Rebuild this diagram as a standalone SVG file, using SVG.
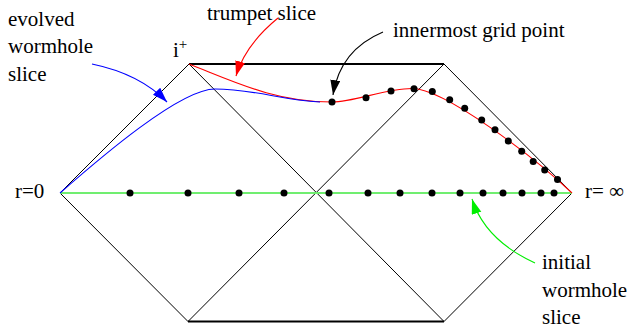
<svg xmlns="http://www.w3.org/2000/svg" width="629" height="330" viewBox="0 0 629 330">
<style>
text{font-family:"Liberation Serif","Times New Roman",serif;font-size:21px;fill:#000}
.edge{stroke:#000;stroke-width:1;fill:none}
.thick{stroke:#000;stroke-width:2.2;fill:none}
.dot{fill:#000}
.arr{fill:none;stroke-width:1.1}
</style>
<defs>
<marker id="mb" markerUnits="userSpaceOnUse" markerWidth="16" markerHeight="12" refX="15" refY="5" orient="auto"><path d="M0,0 L15,5 L0,10 z" fill="#0000ff"/></marker>
<marker id="mr" markerUnits="userSpaceOnUse" markerWidth="16" markerHeight="12" refX="15" refY="5" orient="auto"><path d="M0,0 L15,5 L0,10 z" fill="#ff0000"/></marker>
<marker id="mk" markerUnits="userSpaceOnUse" markerWidth="16" markerHeight="12" refX="15" refY="5" orient="auto"><path d="M0,0 L15,5 L0,10 z" fill="#000"/></marker>
<marker id="mg" markerUnits="userSpaceOnUse" markerWidth="16" markerHeight="12" refX="15" refY="5" orient="auto"><path d="M0,0 L15,5 L0,10 z" fill="#00ee00"/></marker>
</defs>
<rect width="629" height="330" fill="#fff"/>
<g id="diagram">
<path class="edge" d="M189,64 L60,193 L188,321.5"/>
<path class="edge" d="M444,64 L572,193 L444,321.5"/>
<path class="edge" d="M189,64 L444,321.5 M444,64 L188,321.5"/>
<path class="thick" d="M189,64 L444,64"/>
<path class="thick" d="M188,321.5 L444,321.5"/>
</g>
<g id="initial-slice">
<path d="M60,193 L572,193" stroke="#70ee70" stroke-width="2.2" fill="none"/>
<g class="dot">
<circle cx="130" cy="193" r="3.5"/><circle cx="188" cy="193" r="3.5"/><circle cx="239" cy="193" r="3.5"/><circle cx="284" cy="193" r="3.5"/>
<circle cx="329" cy="193" r="3.5"/><circle cx="368" cy="193" r="3.5"/><circle cx="400" cy="193" r="3.5"/><circle cx="432" cy="193" r="3.5"/>
<circle cx="460" cy="193" r="3.5"/><circle cx="483" cy="193" r="3.5"/><circle cx="503" cy="193" r="3.5"/><circle cx="522" cy="193" r="3.5"/>
<circle cx="541" cy="193" r="3.5"/><circle cx="554" cy="193" r="3.5"/>
</g>
</g>
<g id="trumpet-slice">
<path d="M189,64 C235,82 275,102 332,102 C355,102 385,88.5 412,88.5 C445,88.5 535,158 572,193" stroke="#ff0000" stroke-width="1.1" fill="none"/>
</g>
<g id="evolved-slice">
<path d="M60,193 C100,158 180,89 215,89 C255,89 280,100 320,102" stroke="#0000ff" stroke-width="1.1" fill="none"/>
</g>
<g id="grid-points" class="dot">
<circle cx="332" cy="102" r="3.5"/><circle cx="366" cy="97.7" r="3.5"/><circle cx="391" cy="91" r="3.5"/><circle cx="414" cy="88.7" r="3.5"/>
<circle cx="432.3" cy="91.5" r="3.5"/><circle cx="449.7" cy="99.7" r="3.5"/><circle cx="464.7" cy="108.3" r="3.5"/><circle cx="481.7" cy="120" r="3.5"/>
<circle cx="495" cy="129.7" r="3.5"/><circle cx="508.3" cy="141" r="3.5"/><circle cx="521.7" cy="151.3" r="3.5"/><circle cx="533.2" cy="161.5" r="3.5"/>
<circle cx="544.7" cy="170" r="3.5"/><circle cx="557.5" cy="179.5" r="3.5"/>
</g>
<g id="connectors">
<path class="arr" d="M92,64 Q140,74 167,102" stroke="#0000ff" marker-end="url(#mb)"/>
<path class="arr" d="M278,18 Q245,45 236,76" stroke="#ff0000" marker-end="url(#mr)"/>
<path class="arr" d="M383,32 Q340,50 333,95" stroke="#000" marker-end="url(#mk)"/>
<path class="arr" d="M535,263 Q485,240 472,199" stroke="#00ee00" marker-end="url(#mg)"/>
</g>
<g id="labels">
<text x="8" y="26">evolved</text>
<text x="8" y="53">wormhole</text>
<text x="8" y="81">slice</text>
<text x="173" y="57">i<tspan font-size="15" dy="-8">+</tspan></text>
<text x="207" y="20">trumpet slice</text>
<text x="393" y="37">innermost grid point</text>
<text x="15" y="198">r=0</text>
<text x="585" y="198">r= ∞</text>
<text x="542" y="269">initial</text>
<text x="542" y="297">wormhole</text>
<text x="542" y="324">slice</text>
</g>
</svg>
